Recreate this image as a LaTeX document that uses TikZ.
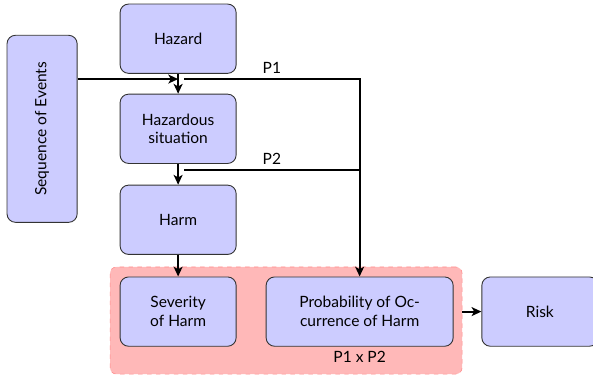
\documentclass[tikz,border=0pt]{standalone}
\usepackage{fontspec}
\setmainfont{Lato}
\usepackage{xcolor}
\usetikzlibrary{arrows.meta,positioning,fit,calc}

\begin{document}
\begin{tikzpicture}[
        node distance=0.6cm,
        font=\fontsize{10.4}{12.5}\selectfont,
        box/.style={rectangle, rounded corners=0.2cm, draw=black!80, semithick, fill=blue!20, minimum width=2.73cm, minimum height=1.63cm, align=center},
        grp/.style={rectangle, rounded corners=0.15cm, draw=red!45, dashed, fill=red!28, inner sep=0.235cm},
        link/.style={line width=1.3pt, -{Stealth[length=2.3mm, width=2.1mm, inset=0.6mm]}}
      ]
        \useasboundingbox (0,0) rectangle (13.95,-8.80);

        \node[grp, minimum width=8.28cm, minimum height=2.52cm] (group) at (6.73,-7.54) {};

        \node[box] (hazard) at (4.19,-0.91) {Hazard};
        \node[box, rotate=90, minimum width=4.40cm, minimum height=1.65cm] (seq) at (0.99,-3.03) {Sequence of Events};
        \node[box] (hazsit) at (4.19,-3.03) {Hazardous\\situation};
        \node[box] (harm) at (4.19,-5.17) {Harm};
        \node[box] (sev) at (4.19,-7.33) {Severity\\of Harm};
        \node[box, minimum width=4.40cm] (prob) at (8.46,-7.33) {Probability of Oc-\\currence of Harm};
        \node[box] (risk) at (12.70,-7.33) {Risk};
        \node[inner sep=0pt] (prod) at (8.46,-8.40) {P1 x P2};

        \coordinate (j1) at (4.19,-1.86);
        \coordinate (j2) at (4.19,-4.00);

        \draw[link] (seq.south |- j1) -- (j1);
        \draw[link] (hazard) -- (hazsit);
        \draw[link] (hazsit) -- (harm);
        \draw[link] (harm) -- (sev);
        \draw[link] ([xshift=0.14cm]j1) -- node[above] {P1} (j1 -| prob) -- (prob);
        \draw[line width=1.3pt] ([xshift=0.14cm]j2) -- node[above] {P2} (j2 -| prob);
        \draw[link] (group.east |- prob) -- (risk);

      \end{tikzpicture}
\end{document}
